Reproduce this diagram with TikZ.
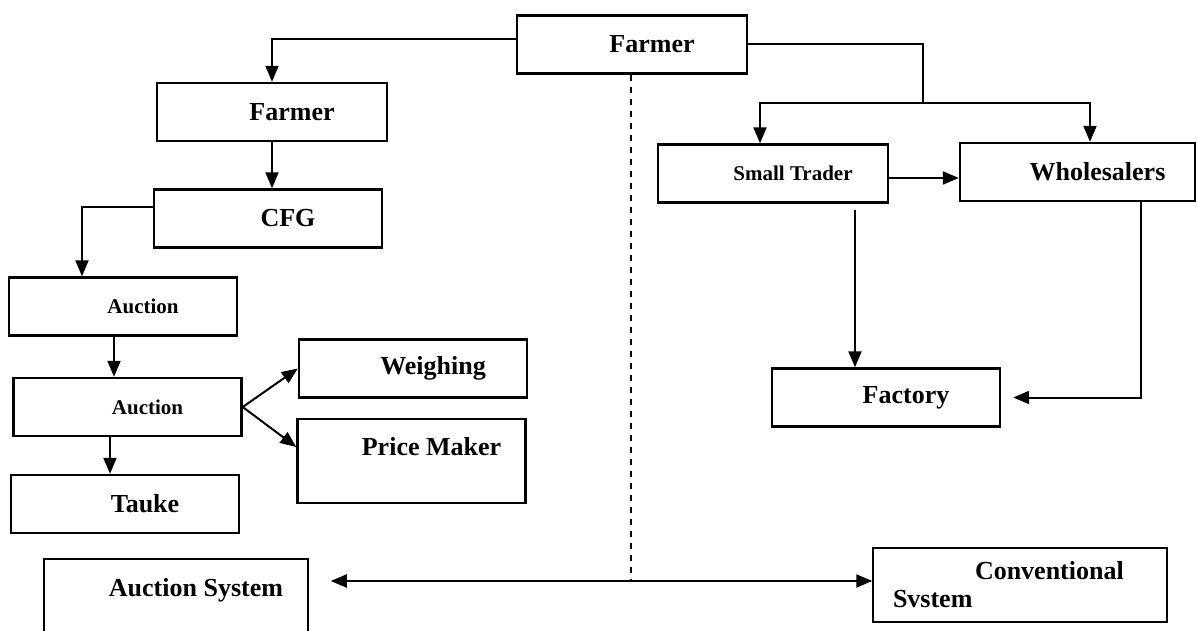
\documentclass[tikz,border=0pt]{standalone}
\usepackage{fontspec}
\setmainfont{Liberation Serif}
\usetikzlibrary{arrows.meta, positioning}

\begin{document}
\begin{tikzpicture}[x=0.5pt, y=-0.5pt,
  box/.style={draw, line width=1.2pt, minimum width=114pt, minimum height=29pt, inner sep=0pt, align=center,
    font=\bfseries\fontsize{13}{15}\selectfont, execute at begin node=\hspace*{20pt}},
  smallbox/.style={box, font=\bfseries\fontsize{10.5}{12}\selectfont},
  thinbox/.style={box, line width=0.75pt},
  arr/.style={-{Triangle[length=8pt,width=6.5pt]}, line width=1pt},
  link/.style={line width=1pt}]
\useasboundingbox (0,0) rectangle (1198,631);
\clip (0,0) rectangle (1198,631);
% nodes

\node[box, minimum width=115pt] (farmerTop) at (632, 44.5) {Farmer};
\node[box, minimum width=115pt] (farmer) at (272, 112) {Farmer};
\node[box] (cfg) at (268, 218.5) {CFG};
\node[smallbox] (auctionA) at (123, 306.5) {Auction};
\node[smallbox] (auctionB) at (127.5, 407) {Auction};
\node[box] (weighing) at (413, 368.5) {Weighing};
\node[box, minimum height=42pt] (price) at (411.5, 461) {Price Maker\\ \mbox{}};
\node[box] (tauke) at (125, 504) {Tauke};
\node[thinbox, minimum width=132pt, minimum height=43pt] (auctionSys) at (176, 602) {Auction System\\ \mbox{}};

\node[smallbox, minimum width=115pt] (trader) at (773, 173.5) {Small Trader};
\node[box, minimum width=117.5pt] (wholesale) at (1077.5, 172) {Wholesalers};
\node[box] (factory) at (886, 397.5) {Factory};
\node[thinbox, minimum width=147pt, minimum height=37pt, align=left, text width=127pt,
  font=\bfseries\fontsize{13}{14}\selectfont, execute at begin node={}] (conv) at (1020, 585)
  {\hspace*{21pt}Conventional\\Svstem};

\coordinate (split) at (631, 581);
\coordinate (fork) at (923, 103);

% arrows
\draw [arr] ([yshift=2.75pt]farmerTop.west) -| (farmer.north);
\draw [arr] (farmer.south) -- (farmer.south |- cfg.north);
\draw [arr] ([yshift=5.75pt]cfg.west) -| ([xshift=-20.5pt]auctionA.north);
\draw [arr] ([xshift=-4.5pt]auctionA.south) -- ([xshift=-4.5pt]auctionA.south |- auctionB.north);
\draw [arr] ([xshift=-8.75pt]auctionB.south) -- ([xshift=-8.75pt]auctionB.south |- tauke.north);
\draw [arr] (auctionB.east) -- (weighing.west);
\draw [arr] (auctionB.east) -- ([yshift=7pt]price.west);

\draw [link] (farmerTop.east) -| (fork);
\draw [arr] (fork) -| ([xshift=-6.5pt]trader.north);
\draw [arr] (fork) -| ([xshift=6.25pt]wholesale.north);
\draw [arr] ([yshift=-2.25pt]trader.east) -- ([yshift=-2.25pt]trader.east -| wholesale.west);
\draw [arr, shorten <=3pt] ([xshift=41pt]trader.south) -- ([xshift=41pt]trader.south |- factory.north);
\draw [arr, shorten >=6pt] ([xshift=31.75pt]wholesale.south) |- (factory.east);

% split between the two systems
\draw [dashed, line width=0.75pt] (farmerTop.south -| split) -- (split);
\draw [arr, shorten >=11pt] (split) -- (split -| auctionSys.east);
\draw [arr] (split) -- (split -| conv.west);
\end{tikzpicture}
\end{document}
